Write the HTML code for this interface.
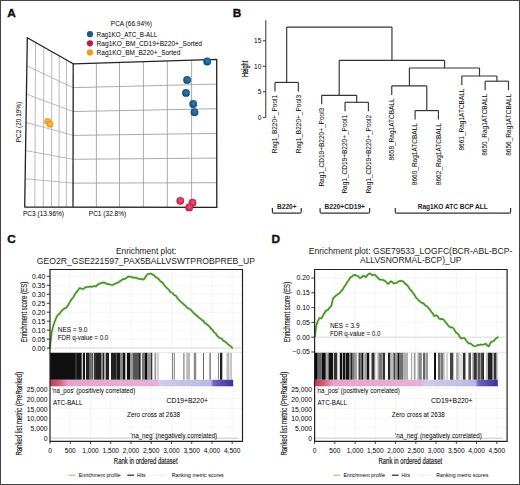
<!DOCTYPE html>
<html><head><meta charset="utf-8"><style>
html,body{margin:0;padding:0;background:#fff;}
svg{display:block;}
text{font-family:"Liberation Sans", sans-serif;}
</style></head><body>
<svg width="520" height="485" viewBox="0 0 520 485">
<defs>
<linearGradient id="cbar" x1="0" x2="1" y1="0" y2="0">
<stop offset="0" stop-color="#c83a48"/>
<stop offset="0.05" stop-color="#d0607a"/>
<stop offset="0.10" stop-color="#e6a3cc"/>
<stop offset="0.588" stop-color="#e8b0d6"/>
<stop offset="0.596" stop-color="#cdcdee"/>
<stop offset="0.878" stop-color="#b8b8e6"/>
<stop offset="0.893" stop-color="#6f64bd"/>
<stop offset="1" stop-color="#3b2f9e"/>
</linearGradient>
<radialGradient id="gb" cx="0.55" cy="0.45" r="0.6"><stop offset="0" stop-color="#2f7fb3"/><stop offset="0.6" stop-color="#1b5d91"/><stop offset="1" stop-color="#0f3c66"/></radialGradient>
<radialGradient id="gr" cx="0.55" cy="0.45" r="0.6"><stop offset="0" stop-color="#ec5c80"/><stop offset="0.6" stop-color="#d42a54"/><stop offset="1" stop-color="#a81536"/></radialGradient>
<radialGradient id="go" cx="0.55" cy="0.45" r="0.6"><stop offset="0" stop-color="#fbbf4a"/><stop offset="0.6" stop-color="#f5a226"/><stop offset="1" stop-color="#e88b12"/></radialGradient>
</defs>
<rect x="0" y="0" width="520" height="485" fill="#fff"/>
<text x="7.20" y="17.00" font-size="11.8" font-weight="bold" fill="#111" stroke="#111" stroke-width="0.4">A</text>
<text x="110.80" y="26.00" font-size="7" textLength="41.20" lengthAdjust="spacingAndGlyphs" >PCA (66.94%)</text>
<circle cx="90" cy="34.20" r="3.1" fill="#1c5a92"/>
<text x="96.60" y="36.80" font-size="7" textLength="60.60" lengthAdjust="spacingAndGlyphs" >Rag1KO_ATC_B-ALL</text>
<circle cx="90" cy="43.30" r="3.1" fill="#c8173b"/>
<text x="96.60" y="45.90" font-size="7" textLength="105.40" lengthAdjust="spacingAndGlyphs" >Rag1KO_BM_CD19+B220+_Sorted</text>
<circle cx="90" cy="52.40" r="3.1" fill="#f39a1e"/>
<text x="96.60" y="55.00" font-size="7" textLength="83.70" lengthAdjust="spacingAndGlyphs" >Rag1KO_BM_B220+_Sorted</text>
<line x1="35.50" y1="42.36" x2="34.84" y2="207.00" stroke="#a8a8a8" stroke-width="0.8"/>
<line x1="43.80" y1="47.08" x2="43.29" y2="207.00" stroke="#a8a8a8" stroke-width="0.8"/>
<line x1="51.80" y1="51.63" x2="51.43" y2="207.00" stroke="#a8a8a8" stroke-width="0.8"/>
<line x1="59.20" y1="55.84" x2="58.96" y2="207.00" stroke="#a8a8a8" stroke-width="0.8"/>
<line x1="66.50" y1="59.99" x2="66.38" y2="207.00" stroke="#a8a8a8" stroke-width="0.8"/>
<line x1="26.87" y1="65.92" x2="73.17" y2="87.67" stroke="#a8a8a8" stroke-width="0.8"/>
<line x1="26.43" y1="94.13" x2="73.13" y2="111.53" stroke="#a8a8a8" stroke-width="0.8"/>
<line x1="26.00" y1="122.35" x2="73.10" y2="135.40" stroke="#a8a8a8" stroke-width="0.8"/>
<line x1="25.57" y1="150.57" x2="73.07" y2="159.27" stroke="#a8a8a8" stroke-width="0.8"/>
<line x1="25.13" y1="178.78" x2="73.03" y2="183.13" stroke="#a8a8a8" stroke-width="0.8"/>
<line x1="96.40" y1="63.09" x2="96.40" y2="207.20" stroke="#959595" stroke-width="0.8"/>
<line x1="119.50" y1="62.38" x2="119.50" y2="207.20" stroke="#959595" stroke-width="0.8"/>
<line x1="143.40" y1="61.65" x2="143.40" y2="207.20" stroke="#959595" stroke-width="0.8"/>
<line x1="167.30" y1="60.91" x2="167.30" y2="207.20" stroke="#959595" stroke-width="0.8"/>
<line x1="191.60" y1="60.17" x2="191.60" y2="207.20" stroke="#959595" stroke-width="0.8"/>
<line x1="73.17" y1="87.67" x2="216.72" y2="84.07" stroke="#959595" stroke-width="0.8"/>
<line x1="73.13" y1="111.53" x2="216.73" y2="108.73" stroke="#959595" stroke-width="0.8"/>
<line x1="73.10" y1="135.40" x2="216.75" y2="133.40" stroke="#959595" stroke-width="0.8"/>
<line x1="73.07" y1="159.27" x2="216.77" y2="158.07" stroke="#959595" stroke-width="0.8"/>
<line x1="73.03" y1="183.13" x2="216.78" y2="182.73" stroke="#959595" stroke-width="0.8"/>
<path d="M27.30 37.70 L73.20 63.80 L216.70 59.40 L216.80 207.40 L24.70 207.00 L27.30 37.70 Z" stroke="#222" stroke-width="1.3" fill="none" stroke-linejoin="round"/>
<line x1="73.20" y1="63.80" x2="73.00" y2="207.00" stroke="#222" stroke-width="1.3"/>
<circle cx="207.20" cy="61.50" r="3.9" fill="url(#gb)"/>
<circle cx="187.10" cy="79.90" r="3.9" fill="url(#gb)"/>
<circle cx="186.00" cy="92.90" r="3.9" fill="url(#gb)"/>
<circle cx="193.20" cy="104.00" r="3.9" fill="url(#gb)"/>
<circle cx="194.50" cy="112.20" r="3.9" fill="url(#gb)"/>
<circle cx="180.30" cy="200.80" r="3.9" fill="url(#gr)"/>
<circle cx="192.50" cy="202.70" r="3.9" fill="url(#gr)"/>
<circle cx="189.20" cy="207.40" r="3.9" fill="url(#gr)"/>
<circle cx="47.80" cy="121.30" r="3.4" fill="url(#go)"/>
<circle cx="50.00" cy="124.20" r="3.4" fill="url(#go)"/>
<text x="23.00" y="216.00" font-size="6.6" textLength="41.00" lengthAdjust="spacingAndGlyphs" >PC3 (13.96%)</text>
<text x="88.80" y="216.00" font-size="6.6" textLength="37.40" lengthAdjust="spacingAndGlyphs" >PC1 (32.8%)</text>
<text x="21.40" y="142.20" font-size="6.4" textLength="40.40" lengthAdjust="spacingAndGlyphs" transform="rotate(-90 21.40 142.20)" >PC2 (20.19%)</text>
<text x="232.80" y="17.00" font-size="11.8" font-weight="bold" fill="#111" stroke="#111" stroke-width="0.4">B</text>
<line x1="265.80" y1="20.20" x2="265.80" y2="117.30" stroke="#333" stroke-width="1"/>
<line x1="262.80" y1="117.30" x2="265.80" y2="117.30" stroke="#333" stroke-width="1"/>
<text x="261.30" y="119.60" font-size="6.5" text-anchor="end" >0</text>
<line x1="262.80" y1="91.80" x2="265.80" y2="91.80" stroke="#333" stroke-width="1"/>
<text x="261.30" y="94.10" font-size="6.5" text-anchor="end" >5</text>
<line x1="262.80" y1="66.30" x2="265.80" y2="66.30" stroke="#333" stroke-width="1"/>
<text x="261.30" y="68.60" font-size="6.5" text-anchor="end" >10</text>
<line x1="262.80" y1="40.80" x2="265.80" y2="40.80" stroke="#333" stroke-width="1"/>
<text x="261.30" y="43.10" font-size="6.5" text-anchor="end" >15</text>
<text x="248.50" y="68.90" font-size="8.2" text-anchor="middle" fill="#222" textLength="16.20" lengthAdjust="spacingAndGlyphs" transform="rotate(-90 248.50 68.90)" stroke="#222" stroke-width="0.3">Height</text>
<line x1="286.70" y1="27.10" x2="391.95" y2="27.10" stroke="#333" stroke-width="1.15"/>
<line x1="286.70" y1="27.10" x2="286.70" y2="82.40" stroke="#333" stroke-width="1.15"/>
<line x1="391.95" y1="27.10" x2="391.95" y2="60.30" stroke="#333" stroke-width="1.15"/>
<line x1="275.00" y1="82.40" x2="298.35" y2="82.40" stroke="#333" stroke-width="1.15"/>
<line x1="275.00" y1="82.40" x2="275.00" y2="91.40" stroke="#333" stroke-width="1.15"/>
<line x1="298.35" y1="82.40" x2="298.35" y2="91.40" stroke="#333" stroke-width="1.15"/>
<line x1="339.20" y1="60.30" x2="444.60" y2="60.30" stroke="#333" stroke-width="1.15"/>
<line x1="339.20" y1="60.30" x2="339.20" y2="95.30" stroke="#333" stroke-width="1.15"/>
<line x1="444.60" y1="60.30" x2="444.60" y2="68.00" stroke="#333" stroke-width="1.15"/>
<line x1="321.70" y1="95.30" x2="356.70" y2="95.30" stroke="#333" stroke-width="1.15"/>
<line x1="321.70" y1="95.30" x2="321.70" y2="104.30" stroke="#333" stroke-width="1.15"/>
<line x1="356.70" y1="95.30" x2="356.70" y2="102.30" stroke="#333" stroke-width="1.15"/>
<line x1="345.05" y1="102.30" x2="368.40" y2="102.30" stroke="#333" stroke-width="1.15"/>
<line x1="345.05" y1="102.30" x2="345.05" y2="111.30" stroke="#333" stroke-width="1.15"/>
<line x1="368.40" y1="102.30" x2="368.40" y2="111.30" stroke="#333" stroke-width="1.15"/>
<line x1="409.40" y1="68.00" x2="479.50" y2="68.00" stroke="#333" stroke-width="1.15"/>
<line x1="409.40" y1="68.00" x2="409.40" y2="85.90" stroke="#333" stroke-width="1.15"/>
<line x1="479.50" y1="68.00" x2="479.50" y2="76.00" stroke="#333" stroke-width="1.15"/>
<line x1="391.75" y1="85.90" x2="426.80" y2="85.90" stroke="#333" stroke-width="1.15"/>
<line x1="391.75" y1="85.90" x2="391.75" y2="94.90" stroke="#333" stroke-width="1.15"/>
<line x1="426.80" y1="85.90" x2="426.80" y2="110.60" stroke="#333" stroke-width="1.15"/>
<line x1="415.10" y1="110.60" x2="438.45" y2="110.60" stroke="#333" stroke-width="1.15"/>
<line x1="415.10" y1="110.60" x2="415.10" y2="119.60" stroke="#333" stroke-width="1.15"/>
<line x1="438.45" y1="110.60" x2="438.45" y2="119.60" stroke="#333" stroke-width="1.15"/>
<line x1="461.80" y1="76.00" x2="496.90" y2="76.00" stroke="#333" stroke-width="1.15"/>
<line x1="461.80" y1="76.00" x2="461.80" y2="85.00" stroke="#333" stroke-width="1.15"/>
<line x1="496.90" y1="76.00" x2="496.90" y2="81.20" stroke="#333" stroke-width="1.15"/>
<line x1="485.15" y1="81.20" x2="508.50" y2="81.20" stroke="#333" stroke-width="1.15"/>
<line x1="485.15" y1="81.20" x2="485.15" y2="90.20" stroke="#333" stroke-width="1.15"/>
<line x1="508.50" y1="81.20" x2="508.50" y2="90.20" stroke="#333" stroke-width="1.15"/>
<text x="277.30" y="94.90" font-size="6.5" text-anchor="end" transform="rotate(-90 277.30 94.90)" >Rag1_B220+_Pool1</text>
<text x="300.65" y="94.90" font-size="6.5" text-anchor="end" transform="rotate(-90 300.65 94.90)" >Rag1_B220+_Pool3</text>
<text x="324.00" y="107.80" font-size="6.5" text-anchor="end" transform="rotate(-90 324.00 107.80)" >Rag1_CD19+B220+_Pool3</text>
<text x="347.35" y="114.80" font-size="6.5" text-anchor="end" transform="rotate(-90 347.35 114.80)" >Rag1_CD19+B220+_Pool1</text>
<text x="370.70" y="114.80" font-size="6.5" text-anchor="end" transform="rotate(-90 370.70 114.80)" >Rag1_CD19+B220+_Pool2</text>
<text x="394.05" y="98.40" font-size="6.5" text-anchor="end" transform="rotate(-90 394.05 98.40)" >8658_Rag1ATCBALL</text>
<text x="417.40" y="123.10" font-size="6.5" text-anchor="end" transform="rotate(-90 417.40 123.10)" >8660_Rag1ATCBALL</text>
<text x="440.75" y="123.10" font-size="6.5" text-anchor="end" transform="rotate(-90 440.75 123.10)" >8662_Rag1ATCBALL</text>
<text x="464.10" y="88.50" font-size="6.5" text-anchor="end" transform="rotate(-90 464.10 88.50)" >8661_Rag1ATCBALL</text>
<text x="487.45" y="93.70" font-size="6.5" text-anchor="end" transform="rotate(-90 487.45 93.70)" >8650_Rag1ATCBALL</text>
<text x="510.80" y="93.70" font-size="6.5" text-anchor="end" transform="rotate(-90 510.80 93.70)" >8656_Rag1ATCBALL</text>
<path d="M272.40 208 L272.40 211.7 Q272.40 213.2 273.90 213.2 L299.70 213.2 Q301.20 213.2 301.20 211.7 L301.20 208" stroke="#333" stroke-width="1.2" fill="none"/>
<text x="277.00" y="209.30" font-size="6.8" font-weight="bold" fill="#222" textLength="19.50" lengthAdjust="spacingAndGlyphs" >B220+</text>
<path d="M320.10 208 L320.10 211.7 Q320.10 213.2 321.60 213.2 L368.10 213.2 Q369.60 213.2 369.60 211.7 L369.60 208" stroke="#333" stroke-width="1.2" fill="none"/>
<text x="324.50" y="209.30" font-size="6.8" font-weight="bold" fill="#222" textLength="40.50" lengthAdjust="spacingAndGlyphs" >B220+CD19+</text>
<path d="M395.30 208 L395.30 211.7 Q395.30 213.2 396.80 213.2 L509.10 213.2 Q510.60 213.2 510.60 211.7 L510.60 208" stroke="#333" stroke-width="1.2" fill="none"/>
<text x="417.70" y="209.30" font-size="6.8" font-weight="bold" fill="#222" textLength="70.00" lengthAdjust="spacingAndGlyphs" >Rag1KO ATC BCP ALL</text>
<text x="7.20" y="243.00" font-size="11.8" font-weight="bold" fill="#111" stroke="#111" stroke-width="0.4">C</text>
<text x="115.90" y="253.60" font-size="8.2" fill="#222" textLength="60.50" lengthAdjust="spacingAndGlyphs" >Enrichment plot:</text>
<text x="36.80" y="264.00" font-size="8.2" fill="#222" textLength="218.30" lengthAdjust="spacingAndGlyphs" >GEO2R_GSE221597_PAX5BALLVSWTPROBPREB_UP</text>
<line x1="70.25" y1="269.50" x2="70.25" y2="352.50" stroke="#eeeeee" stroke-width="0.6"/>
<line x1="70.25" y1="386.50" x2="70.25" y2="441.30" stroke="#eeeeee" stroke-width="0.6"/>
<line x1="90.49" y1="269.50" x2="90.49" y2="352.50" stroke="#eeeeee" stroke-width="0.6"/>
<line x1="90.49" y1="386.50" x2="90.49" y2="441.30" stroke="#eeeeee" stroke-width="0.6"/>
<line x1="110.73" y1="269.50" x2="110.73" y2="352.50" stroke="#eeeeee" stroke-width="0.6"/>
<line x1="110.73" y1="386.50" x2="110.73" y2="441.30" stroke="#eeeeee" stroke-width="0.6"/>
<line x1="130.98" y1="269.50" x2="130.98" y2="352.50" stroke="#eeeeee" stroke-width="0.6"/>
<line x1="130.98" y1="386.50" x2="130.98" y2="441.30" stroke="#eeeeee" stroke-width="0.6"/>
<line x1="151.22" y1="269.50" x2="151.22" y2="352.50" stroke="#eeeeee" stroke-width="0.6"/>
<line x1="151.22" y1="386.50" x2="151.22" y2="441.30" stroke="#eeeeee" stroke-width="0.6"/>
<line x1="171.47" y1="269.50" x2="171.47" y2="352.50" stroke="#eeeeee" stroke-width="0.6"/>
<line x1="171.47" y1="386.50" x2="171.47" y2="441.30" stroke="#eeeeee" stroke-width="0.6"/>
<line x1="191.72" y1="269.50" x2="191.72" y2="352.50" stroke="#eeeeee" stroke-width="0.6"/>
<line x1="191.72" y1="386.50" x2="191.72" y2="441.30" stroke="#eeeeee" stroke-width="0.6"/>
<line x1="211.96" y1="269.50" x2="211.96" y2="352.50" stroke="#eeeeee" stroke-width="0.6"/>
<line x1="211.96" y1="386.50" x2="211.96" y2="441.30" stroke="#eeeeee" stroke-width="0.6"/>
<line x1="232.20" y1="269.50" x2="232.20" y2="352.50" stroke="#eeeeee" stroke-width="0.6"/>
<line x1="232.20" y1="386.50" x2="232.20" y2="441.30" stroke="#eeeeee" stroke-width="0.6"/>
<line x1="50.00" y1="348.10" x2="242.50" y2="348.10" stroke="#eeeeee" stroke-width="0.6"/>
<line x1="50.00" y1="339.12" x2="242.50" y2="339.12" stroke="#eeeeee" stroke-width="0.6"/>
<line x1="50.00" y1="330.15" x2="242.50" y2="330.15" stroke="#eeeeee" stroke-width="0.6"/>
<line x1="50.00" y1="321.18" x2="242.50" y2="321.18" stroke="#eeeeee" stroke-width="0.6"/>
<line x1="50.00" y1="312.20" x2="242.50" y2="312.20" stroke="#eeeeee" stroke-width="0.6"/>
<line x1="50.00" y1="303.23" x2="242.50" y2="303.23" stroke="#eeeeee" stroke-width="0.6"/>
<line x1="50.00" y1="294.25" x2="242.50" y2="294.25" stroke="#eeeeee" stroke-width="0.6"/>
<line x1="50.00" y1="285.28" x2="242.50" y2="285.28" stroke="#eeeeee" stroke-width="0.6"/>
<line x1="50.00" y1="276.30" x2="242.50" y2="276.30" stroke="#eeeeee" stroke-width="0.6"/>
<line x1="50.00" y1="388.90" x2="242.50" y2="388.90" stroke="#eeeeee" stroke-width="0.6"/>
<line x1="50.00" y1="398.62" x2="242.50" y2="398.62" stroke="#eeeeee" stroke-width="0.6"/>
<line x1="50.00" y1="408.34" x2="242.50" y2="408.34" stroke="#eeeeee" stroke-width="0.6"/>
<line x1="50.00" y1="418.06" x2="242.50" y2="418.06" stroke="#eeeeee" stroke-width="0.6"/>
<line x1="50.00" y1="427.78" x2="242.50" y2="427.78" stroke="#eeeeee" stroke-width="0.6"/>
<line x1="50.00" y1="437.50" x2="242.50" y2="437.50" stroke="#eeeeee" stroke-width="0.6"/>
<line x1="50.00" y1="348.10" x2="240.50" y2="348.10" stroke="#cfcfcf" stroke-width="0.7"/>
<line x1="50.00" y1="352.60" x2="242.50" y2="352.60" stroke="#d8d8d8" stroke-width="0.6"/>
<rect x="50.00" y="352.8" width="25.00" height="27" fill="#101010"/>
<rect x="75.00" y="352.8" width="2.00" height="27" fill="#333333"/>
<rect x="77.00" y="352.8" width="4.00" height="27" fill="#141414"/>
<rect x="81.00" y="352.8" width="1.00" height="27" fill="#555555"/>
<rect x="82.00" y="352.8" width="1.00" height="27" fill="#d0d0d0"/>
<rect x="83.00" y="352.8" width="2.00" height="27" fill="#151515"/>
<rect x="85.00" y="352.8" width="1.00" height="27" fill="#f5f5f5"/>
<rect x="86.00" y="352.8" width="3.00" height="27" fill="#222222"/>
<rect x="89.00" y="352.8" width="2.50" height="27" fill="#666666"/>
<rect x="91.50" y="352.8" width="1.50" height="27" fill="#555555"/>
<rect x="93.00" y="352.8" width="1.00" height="27" fill="#cccccc"/>
<rect x="94.00" y="352.8" width="2.00" height="27" fill="#333333"/>
<rect x="96.00" y="352.8" width="5.00" height="27" fill="#222222"/>
<rect x="101.00" y="352.8" width="2.00" height="27" fill="#888888"/>
<rect x="103.00" y="352.8" width="1.00" height="27" fill="#222222"/>
<rect x="104.00" y="352.8" width="2.00" height="27" fill="#aaaaaa"/>
<rect x="106.00" y="352.8" width="3.00" height="27" fill="#222222"/>
<rect x="109.00" y="352.8" width="2.00" height="27" fill="#f5f5f5"/>
<rect x="111.00" y="352.8" width="5.00" height="27" fill="#222222"/>
<rect x="116.00" y="352.8" width="1.00" height="27" fill="#555555"/>
<rect x="117.00" y="352.8" width="3.00" height="27" fill="#1a1a1a"/>
<rect x="120.00" y="352.8" width="3.00" height="27" fill="#888888"/>
<rect x="123.00" y="352.8" width="2.50" height="27" fill="#111111"/>
<rect x="125.50" y="352.8" width="1.50" height="27" fill="#dddddd"/>
<rect x="127.00" y="352.8" width="3.00" height="27" fill="#111111"/>
<rect x="130.00" y="352.8" width="3.00" height="27" fill="#999999"/>
<rect x="133.00" y="352.8" width="6.00" height="27" fill="#555555"/>
<rect x="139.00" y="352.8" width="1.00" height="27" fill="#222222"/>
<rect x="140.00" y="352.8" width="1.00" height="27" fill="#777777"/>
<rect x="141.00" y="352.8" width="1.00" height="27" fill="#f0f0f0"/>
<rect x="142.00" y="352.8" width="3.00" height="27" fill="#777777"/>
<rect x="145.00" y="352.8" width="2.50" height="27" fill="#0a0a0a"/>
<rect x="147.50" y="352.8" width="3.50" height="27" fill="#999999"/>
<rect x="151.00" y="352.8" width="1.50" height="27" fill="#333333"/>
<rect x="152.50" y="352.8" width="2.00" height="27" fill="#f8f8f8"/>
<rect x="154.50" y="352.8" width="1.50" height="27" fill="#999999"/>
<rect x="156.00" y="352.8" width="1.50" height="27" fill="#eeeeee"/>
<rect x="157.50" y="352.8" width="1.00" height="27" fill="#aaaaaa"/>
<rect x="171.90" y="352.8" width="1.20" height="27" fill="#888888"/>
<rect x="173.80" y="352.8" width="1.20" height="27" fill="#999999"/>
<rect x="183.10" y="352.8" width="1.50" height="27" fill="#999999"/>
<rect x="186.20" y="352.8" width="3.80" height="27" fill="#bbbbbb"/>
<rect x="193.80" y="352.8" width="2.40" height="27" fill="#888888"/>
<rect x="203.00" y="352.8" width="1.00" height="27" fill="#666666"/>
<rect x="209.40" y="352.8" width="1.40" height="27" fill="#777777"/>
<rect x="218.00" y="352.8" width="1.00" height="27" fill="#888888"/>
<rect x="220.00" y="352.8" width="2.00" height="27" fill="#222222"/>
<rect x="222.00" y="352.8" width="1.00" height="27" fill="#bbbbbb"/>
<rect x="226.50" y="352.8" width="3.00" height="27" fill="#bbbbbb"/>
<rect x="230.70" y="352.8" width="0.70" height="27" fill="#666666"/>
<rect x="50.00" y="379.8" width="183.20" height="6.5" fill="url(#cbar)"/>
<line x1="50.00" y1="438.30" x2="238.50" y2="438.30" stroke="#bdbdbd" stroke-width="0.7"/>
<polyline points="49.90,347.80 51.80,331.50 53.80,324.26 55.25,320.21 56.70,316.66 58.10,314.65 59.50,313.74 60.95,311.63 62.40,309.91 64.35,308.61 66.30,307.84 67.75,305.79 69.20,303.12 70.60,300.76 72.00,298.71 73.45,296.95 74.90,294.34 76.35,292.32 77.80,290.63 79.70,288.09 81.15,288.46 82.60,289.05 83.90,288.75 85.20,287.43 86.50,287.02 87.92,286.89 89.35,286.67 90.78,286.59 92.20,286.87 94.10,286.06 96.00,286.36 97.30,284.99 98.60,284.18 99.90,283.45 101.85,282.81 103.80,282.62 105.70,283.26 107.60,284.17 109.20,284.23 110.80,284.71 112.40,285.09 114.35,283.97 116.30,283.21 118.20,282.55 120.10,281.02 121.55,280.06 123.00,279.13 124.45,279.11 125.90,278.33 127.80,276.83 129.70,276.67 131.30,276.75 132.90,277.69 134.50,277.63 136.10,277.70 137.70,278.42 139.30,279.02 140.80,278.88 142.30,279.35 143.80,279.49 145.80,276.52 147.70,273.99 149.15,274.01 150.60,273.45 152.50,274.50 153.95,275.20 155.40,277.01 157.30,277.96 159.20,279.60 160.50,281.46 161.80,281.97 163.10,283.41 164.53,285.59 165.95,287.22 167.38,288.48 168.80,289.77 170.16,291.74 171.52,292.60 172.88,293.40 174.24,295.26 175.60,295.56 177.03,297.57 178.45,299.41 179.88,300.82 181.30,302.29 182.62,303.26 183.95,304.61 185.28,305.48 186.60,307.13 187.93,308.15 189.25,308.68 190.58,309.63 191.90,310.95 193.20,312.61 194.50,313.60 195.80,314.85 197.34,316.00 198.88,317.63 200.42,318.62 201.96,320.03 203.50,321.02 205.04,323.27 206.58,324.05 208.12,325.25 209.66,326.82 211.20,328.91 212.54,329.97 213.88,332.19 215.22,332.88 216.56,334.76 217.90,336.71 219.80,337.99 221.70,338.52 223.15,340.53 224.60,341.43 226.05,342.38 227.50,343.75 229.10,345.04 230.70,346.29 232.30,347.80" fill="none" stroke="#cdeeb8" stroke-width="3.2" stroke-linejoin="round" stroke-linecap="round" opacity="0.7"/>
<polyline points="49.90,347.80 51.80,331.50 53.80,324.26 55.25,320.21 56.70,316.66 58.10,314.65 59.50,313.74 60.95,311.63 62.40,309.91 64.35,308.61 66.30,307.84 67.75,305.79 69.20,303.12 70.60,300.76 72.00,298.71 73.45,296.95 74.90,294.34 76.35,292.32 77.80,290.63 79.70,288.09 81.15,288.46 82.60,289.05 83.90,288.75 85.20,287.43 86.50,287.02 87.92,286.89 89.35,286.67 90.78,286.59 92.20,286.87 94.10,286.06 96.00,286.36 97.30,284.99 98.60,284.18 99.90,283.45 101.85,282.81 103.80,282.62 105.70,283.26 107.60,284.17 109.20,284.23 110.80,284.71 112.40,285.09 114.35,283.97 116.30,283.21 118.20,282.55 120.10,281.02 121.55,280.06 123.00,279.13 124.45,279.11 125.90,278.33 127.80,276.83 129.70,276.67 131.30,276.75 132.90,277.69 134.50,277.63 136.10,277.70 137.70,278.42 139.30,279.02 140.80,278.88 142.30,279.35 143.80,279.49 145.80,276.52 147.70,273.99 149.15,274.01 150.60,273.45 152.50,274.50 153.95,275.20 155.40,277.01 157.30,277.96 159.20,279.60 160.50,281.46 161.80,281.97 163.10,283.41 164.53,285.59 165.95,287.22 167.38,288.48 168.80,289.77 170.16,291.74 171.52,292.60 172.88,293.40 174.24,295.26 175.60,295.56 177.03,297.57 178.45,299.41 179.88,300.82 181.30,302.29 182.62,303.26 183.95,304.61 185.28,305.48 186.60,307.13 187.93,308.15 189.25,308.68 190.58,309.63 191.90,310.95 193.20,312.61 194.50,313.60 195.80,314.85 197.34,316.00 198.88,317.63 200.42,318.62 201.96,320.03 203.50,321.02 205.04,323.27 206.58,324.05 208.12,325.25 209.66,326.82 211.20,328.91 212.54,329.97 213.88,332.19 215.22,332.88 216.56,334.76 217.90,336.71 219.80,337.99 221.70,338.52 223.15,340.53 224.60,341.43 226.05,342.38 227.50,343.75 229.10,345.04 230.70,346.29 232.30,347.80" fill="none" stroke="#478f28" stroke-width="1.6" stroke-linejoin="round" stroke-linecap="round"/>
<path d="M50.00 269.5 L242.50 269.5 L242.50 441.3 L50.00 441.3 Z" fill="none" stroke="#222" stroke-width="1.2"/>
<line x1="46.70" y1="348.10" x2="50.00" y2="348.10" stroke="#222" stroke-width="0.9"/>
<text x="45.20" y="350.50" font-size="6.8" text-anchor="end" >0.00</text>
<line x1="46.70" y1="339.12" x2="50.00" y2="339.12" stroke="#222" stroke-width="0.9"/>
<text x="45.20" y="341.52" font-size="6.8" text-anchor="end" >0.05</text>
<line x1="46.70" y1="330.15" x2="50.00" y2="330.15" stroke="#222" stroke-width="0.9"/>
<text x="45.20" y="332.55" font-size="6.8" text-anchor="end" >0.10</text>
<line x1="46.70" y1="321.18" x2="50.00" y2="321.18" stroke="#222" stroke-width="0.9"/>
<text x="45.20" y="323.57" font-size="6.8" text-anchor="end" >0.15</text>
<line x1="46.70" y1="312.20" x2="50.00" y2="312.20" stroke="#222" stroke-width="0.9"/>
<text x="45.20" y="314.60" font-size="6.8" text-anchor="end" >0.20</text>
<line x1="46.70" y1="303.23" x2="50.00" y2="303.23" stroke="#222" stroke-width="0.9"/>
<text x="45.20" y="305.62" font-size="6.8" text-anchor="end" >0.25</text>
<line x1="46.70" y1="294.25" x2="50.00" y2="294.25" stroke="#222" stroke-width="0.9"/>
<text x="45.20" y="296.65" font-size="6.8" text-anchor="end" >0.30</text>
<line x1="46.70" y1="285.28" x2="50.00" y2="285.28" stroke="#222" stroke-width="0.9"/>
<text x="45.20" y="287.68" font-size="6.8" text-anchor="end" >0.35</text>
<line x1="46.70" y1="276.30" x2="50.00" y2="276.30" stroke="#222" stroke-width="0.9"/>
<text x="45.20" y="278.70" font-size="6.8" text-anchor="end" >0.40</text>
<text x="47.50" y="392.30" font-size="6.8" text-anchor="end" >25,000</text>
<text x="47.50" y="402.02" font-size="6.8" text-anchor="end" >20,000</text>
<text x="47.50" y="411.74" font-size="6.8" text-anchor="end" >15,000</text>
<text x="47.50" y="421.46" font-size="6.8" text-anchor="end" >10,000</text>
<text x="47.50" y="431.18" font-size="6.8" text-anchor="end" >5,000</text>
<text x="47.50" y="440.90" font-size="6.8" text-anchor="end" >0</text>
<line x1="50.00" y1="441.30" x2="50.00" y2="443.90" stroke="#222" stroke-width="0.9"/>
<text x="50.00" y="453.20" font-size="6.6" text-anchor="middle" >0</text>
<line x1="70.25" y1="441.30" x2="70.25" y2="443.90" stroke="#222" stroke-width="0.9"/>
<text x="70.25" y="453.20" font-size="6.6" text-anchor="middle" >500</text>
<line x1="90.49" y1="441.30" x2="90.49" y2="443.90" stroke="#222" stroke-width="0.9"/>
<text x="90.49" y="453.20" font-size="6.6" text-anchor="middle" >1,000</text>
<line x1="110.73" y1="441.30" x2="110.73" y2="443.90" stroke="#222" stroke-width="0.9"/>
<text x="110.73" y="453.20" font-size="6.6" text-anchor="middle" >1,500</text>
<line x1="130.98" y1="441.30" x2="130.98" y2="443.90" stroke="#222" stroke-width="0.9"/>
<text x="130.98" y="453.20" font-size="6.6" text-anchor="middle" >2,000</text>
<line x1="151.22" y1="441.30" x2="151.22" y2="443.90" stroke="#222" stroke-width="0.9"/>
<text x="151.22" y="453.20" font-size="6.6" text-anchor="middle" >2,500</text>
<line x1="171.47" y1="441.30" x2="171.47" y2="443.90" stroke="#222" stroke-width="0.9"/>
<text x="171.47" y="453.20" font-size="6.6" text-anchor="middle" >3,000</text>
<line x1="191.72" y1="441.30" x2="191.72" y2="443.90" stroke="#222" stroke-width="0.9"/>
<text x="191.72" y="453.20" font-size="6.6" text-anchor="middle" >3,500</text>
<line x1="211.96" y1="441.30" x2="211.96" y2="443.90" stroke="#222" stroke-width="0.9"/>
<text x="211.96" y="453.20" font-size="6.6" text-anchor="middle" >4,000</text>
<line x1="232.20" y1="441.30" x2="232.20" y2="443.90" stroke="#222" stroke-width="0.9"/>
<text x="232.20" y="453.20" font-size="6.6" text-anchor="middle" >4,500</text>
<text x="26.70" y="312.10" font-size="8.3" text-anchor="middle" fill="#222" textLength="60.50" lengthAdjust="spacingAndGlyphs" transform="rotate(-90 26.70 312.10)" stroke="#222" stroke-width="0.15">Enrichment score (ES)</text>
<text x="22.20" y="413.70" font-size="9.0" text-anchor="middle" fill="#222" textLength="83.80" lengthAdjust="spacingAndGlyphs" transform="rotate(-90 22.20 413.70)" stroke="#222" stroke-width="0.15">Ranked list metric (PreRanked)</text>
<text x="145.70" y="463.80" font-size="8.4" text-anchor="middle" fill="#222" textLength="63.70" lengthAdjust="spacingAndGlyphs" stroke="#222" stroke-width="0.2">Rank in ordered dataset</text>
<text x="57.80" y="331.80" font-size="6.6" textLength="29.60" lengthAdjust="spacingAndGlyphs" >NES = 9.0</text>
<text x="57.80" y="339.60" font-size="6.6" textLength="50.50" lengthAdjust="spacingAndGlyphs" >FDR q-value = 0.0</text>
<text x="51.80" y="392.50" font-size="6.4" textLength="83.50" lengthAdjust="spacingAndGlyphs" >'na_pos' (positively correlated)</text>
<text x="53.00" y="404.50" font-size="6.8" textLength="29.50" lengthAdjust="spacingAndGlyphs" >ATC-BALL</text>
<text x="166.50" y="403.00" font-size="6.8" textLength="41.50" lengthAdjust="spacingAndGlyphs" >CD19+B220+</text>
<text x="127.00" y="416.60" font-size="6.6" textLength="53.00" lengthAdjust="spacingAndGlyphs" >Zero cross at 2638</text>
<text x="130.50" y="438.00" font-size="6.4" textLength="86.70" lengthAdjust="spacingAndGlyphs" >'na_neg' (negatively correlated)</text>
<line x1="68.70" y1="475.20" x2="75.40" y2="475.20" stroke="#9fcc7f" stroke-width="1.2"/>
<text x="78.80" y="477.00" font-size="5.6" textLength="41.80" lengthAdjust="spacingAndGlyphs" >Enrichment profile</text>
<line x1="127.30" y1="475.20" x2="134.00" y2="475.20" stroke="#222" stroke-width="1.2"/>
<text x="137.00" y="477.00" font-size="5.6" textLength="8.60" lengthAdjust="spacingAndGlyphs" >Hits</text>
<line x1="152.50" y1="475.20" x2="167.00" y2="475.20" stroke="#eeeeee" stroke-width="1.2"/>
<text x="171.70" y="477.00" font-size="5.6" textLength="52.00" lengthAdjust="spacingAndGlyphs" >Ranking metric scores</text>
<text x="271.40" y="243.00" font-size="11.8" font-weight="bold" fill="#111" stroke="#111" stroke-width="0.4">D</text>
<text x="308.80" y="253.60" font-size="8.2" fill="#222" textLength="203.50" lengthAdjust="spacingAndGlyphs" >Enrichment plot: GSE79533_LOGFC(BCR-ABL-BCP-</text>
<text x="360.00" y="263.40" font-size="8.2" fill="#222" textLength="101.50" lengthAdjust="spacingAndGlyphs" >ALLVSNORMAL-BCP)_UP</text>
<line x1="334.85" y1="269.50" x2="334.85" y2="352.50" stroke="#eeeeee" stroke-width="0.6"/>
<line x1="334.85" y1="386.50" x2="334.85" y2="441.30" stroke="#eeeeee" stroke-width="0.6"/>
<line x1="355.09" y1="269.50" x2="355.09" y2="352.50" stroke="#eeeeee" stroke-width="0.6"/>
<line x1="355.09" y1="386.50" x2="355.09" y2="441.30" stroke="#eeeeee" stroke-width="0.6"/>
<line x1="375.34" y1="269.50" x2="375.34" y2="352.50" stroke="#eeeeee" stroke-width="0.6"/>
<line x1="375.34" y1="386.50" x2="375.34" y2="441.30" stroke="#eeeeee" stroke-width="0.6"/>
<line x1="395.58" y1="269.50" x2="395.58" y2="352.50" stroke="#eeeeee" stroke-width="0.6"/>
<line x1="395.58" y1="386.50" x2="395.58" y2="441.30" stroke="#eeeeee" stroke-width="0.6"/>
<line x1="415.83" y1="269.50" x2="415.83" y2="352.50" stroke="#eeeeee" stroke-width="0.6"/>
<line x1="415.83" y1="386.50" x2="415.83" y2="441.30" stroke="#eeeeee" stroke-width="0.6"/>
<line x1="436.07" y1="269.50" x2="436.07" y2="352.50" stroke="#eeeeee" stroke-width="0.6"/>
<line x1="436.07" y1="386.50" x2="436.07" y2="441.30" stroke="#eeeeee" stroke-width="0.6"/>
<line x1="456.32" y1="269.50" x2="456.32" y2="352.50" stroke="#eeeeee" stroke-width="0.6"/>
<line x1="456.32" y1="386.50" x2="456.32" y2="441.30" stroke="#eeeeee" stroke-width="0.6"/>
<line x1="476.56" y1="269.50" x2="476.56" y2="352.50" stroke="#eeeeee" stroke-width="0.6"/>
<line x1="476.56" y1="386.50" x2="476.56" y2="441.30" stroke="#eeeeee" stroke-width="0.6"/>
<line x1="496.81" y1="269.50" x2="496.81" y2="352.50" stroke="#eeeeee" stroke-width="0.6"/>
<line x1="496.81" y1="386.50" x2="496.81" y2="441.30" stroke="#eeeeee" stroke-width="0.6"/>
<line x1="314.60" y1="352.00" x2="507.10" y2="352.00" stroke="#eeeeee" stroke-width="0.6"/>
<line x1="314.60" y1="337.20" x2="507.10" y2="337.20" stroke="#eeeeee" stroke-width="0.6"/>
<line x1="314.60" y1="322.40" x2="507.10" y2="322.40" stroke="#eeeeee" stroke-width="0.6"/>
<line x1="314.60" y1="307.60" x2="507.10" y2="307.60" stroke="#eeeeee" stroke-width="0.6"/>
<line x1="314.60" y1="292.80" x2="507.10" y2="292.80" stroke="#eeeeee" stroke-width="0.6"/>
<line x1="314.60" y1="278.00" x2="507.10" y2="278.00" stroke="#eeeeee" stroke-width="0.6"/>
<line x1="314.60" y1="388.90" x2="507.10" y2="388.90" stroke="#eeeeee" stroke-width="0.6"/>
<line x1="314.60" y1="398.62" x2="507.10" y2="398.62" stroke="#eeeeee" stroke-width="0.6"/>
<line x1="314.60" y1="408.34" x2="507.10" y2="408.34" stroke="#eeeeee" stroke-width="0.6"/>
<line x1="314.60" y1="418.06" x2="507.10" y2="418.06" stroke="#eeeeee" stroke-width="0.6"/>
<line x1="314.60" y1="427.78" x2="507.10" y2="427.78" stroke="#eeeeee" stroke-width="0.6"/>
<line x1="314.60" y1="437.50" x2="507.10" y2="437.50" stroke="#eeeeee" stroke-width="0.6"/>
<line x1="314.60" y1="337.20" x2="505.10" y2="337.20" stroke="#cfcfcf" stroke-width="0.7"/>
<line x1="314.60" y1="352.60" x2="507.10" y2="352.60" stroke="#d8d8d8" stroke-width="0.6"/>
<rect x="314.60" y="352.8" width="2.40" height="27" fill="#080808"/>
<rect x="317.00" y="352.8" width="1.00" height="27" fill="#555555"/>
<rect x="318.00" y="352.8" width="3.00" height="27" fill="#666666"/>
<rect x="321.00" y="352.8" width="1.00" height="27" fill="#777777"/>
<rect x="322.00" y="352.8" width="3.00" height="27" fill="#101010"/>
<rect x="325.00" y="352.8" width="1.00" height="27" fill="#555555"/>
<rect x="326.00" y="352.8" width="2.50" height="27" fill="#aaaaaa"/>
<rect x="328.50" y="352.8" width="4.50" height="27" fill="#141414"/>
<rect x="333.00" y="352.8" width="1.00" height="27" fill="#cccccc"/>
<rect x="334.00" y="352.8" width="3.50" height="27" fill="#333333"/>
<rect x="337.50" y="352.8" width="2.00" height="27" fill="#f5f5f5"/>
<rect x="339.50" y="352.8" width="0.50" height="27" fill="#999999"/>
<rect x="340.00" y="352.8" width="2.00" height="27" fill="#101010"/>
<rect x="342.00" y="352.8" width="1.00" height="27" fill="#aaaaaa"/>
<rect x="343.00" y="352.8" width="2.00" height="27" fill="#141414"/>
<rect x="345.00" y="352.8" width="1.00" height="27" fill="#888888"/>
<rect x="346.00" y="352.8" width="3.00" height="27" fill="#141414"/>
<rect x="349.00" y="352.8" width="1.50" height="27" fill="#888888"/>
<rect x="350.50" y="352.8" width="1.50" height="27" fill="#222222"/>
<rect x="352.00" y="352.8" width="2.00" height="27" fill="#777777"/>
<rect x="354.00" y="352.8" width="2.00" height="27" fill="#999999"/>
<rect x="356.00" y="352.8" width="1.00" height="27" fill="#aaaaaa"/>
<rect x="357.00" y="352.8" width="1.50" height="27" fill="#f5f5f5"/>
<rect x="358.50" y="352.8" width="1.50" height="27" fill="#444444"/>
<rect x="360.00" y="352.8" width="1.50" height="27" fill="#777777"/>
<rect x="361.50" y="352.8" width="2.00" height="27" fill="#111111"/>
<rect x="363.50" y="352.8" width="1.00" height="27" fill="#bbbbbb"/>
<rect x="364.50" y="352.8" width="2.50" height="27" fill="#999999"/>
<rect x="367.00" y="352.8" width="2.50" height="27" fill="#111111"/>
<rect x="369.50" y="352.8" width="1.50" height="27" fill="#f5f5f5"/>
<rect x="371.00" y="352.8" width="1.00" height="27" fill="#999999"/>
<rect x="372.00" y="352.8" width="2.00" height="27" fill="#333333"/>
<rect x="374.00" y="352.8" width="1.50" height="27" fill="#888888"/>
<rect x="375.50" y="352.8" width="2.00" height="27" fill="#f5f5f5"/>
<rect x="377.50" y="352.8" width="1.50" height="27" fill="#aaaaaa"/>
<rect x="379.00" y="352.8" width="3.00" height="27" fill="#777777"/>
<rect x="382.00" y="352.8" width="1.00" height="27" fill="#999999"/>
<rect x="383.00" y="352.8" width="2.00" height="27" fill="#333333"/>
<rect x="385.00" y="352.8" width="3.00" height="27" fill="#f5f5f5"/>
<rect x="388.00" y="352.8" width="2.00" height="27" fill="#222222"/>
<rect x="390.00" y="352.8" width="1.00" height="27" fill="#aaaaaa"/>
<rect x="391.00" y="352.8" width="2.50" height="27" fill="#bbbbbb"/>
<rect x="393.50" y="352.8" width="1.50" height="27" fill="#444444"/>
<rect x="395.00" y="352.8" width="2.50" height="27" fill="#999999"/>
<rect x="397.50" y="352.8" width="1.50" height="27" fill="#111111"/>
<rect x="399.00" y="352.8" width="4.00" height="27" fill="#707070"/>
<rect x="403.00" y="352.8" width="5.00" height="27" fill="#b0b0b0"/>
<rect x="411.00" y="352.8" width="1.00" height="27" fill="#aaaaaa"/>
<rect x="412.00" y="352.8" width="2.00" height="27" fill="#eeeeee"/>
<rect x="414.00" y="352.8" width="1.50" height="27" fill="#999999"/>
<rect x="417.50" y="352.8" width="1.50" height="27" fill="#aaaaaa"/>
<rect x="419.00" y="352.8" width="2.00" height="27" fill="#888888"/>
<rect x="421.00" y="352.8" width="1.00" height="27" fill="#999999"/>
<rect x="423.00" y="352.8" width="2.00" height="27" fill="#666666"/>
<rect x="425.00" y="352.8" width="1.00" height="27" fill="#bbbbbb"/>
<rect x="426.00" y="352.8" width="2.00" height="27" fill="#999999"/>
<rect x="434.00" y="352.8" width="2.00" height="27" fill="#101010"/>
<rect x="438.00" y="352.8" width="2.00" height="27" fill="#666666"/>
<rect x="440.00" y="352.8" width="1.00" height="27" fill="#aaaaaa"/>
<rect x="441.00" y="352.8" width="2.50" height="27" fill="#777777"/>
<rect x="444.00" y="352.8" width="1.00" height="27" fill="#cccccc"/>
<rect x="446.50" y="352.8" width="1.00" height="27" fill="#aaaaaa"/>
<rect x="450.00" y="352.8" width="3.00" height="27" fill="#444444"/>
<rect x="453.00" y="352.8" width="1.00" height="27" fill="#bbbbbb"/>
<rect x="456.00" y="352.8" width="2.00" height="27" fill="#aaaaaa"/>
<rect x="458.00" y="352.8" width="1.00" height="27" fill="#bbbbbb"/>
<rect x="459.00" y="352.8" width="4.00" height="27" fill="#e0e0e0"/>
<rect x="463.00" y="352.8" width="2.50" height="27" fill="#333333"/>
<rect x="468.00" y="352.8" width="1.00" height="27" fill="#999999"/>
<rect x="469.00" y="352.8" width="2.00" height="27" fill="#555555"/>
<rect x="472.00" y="352.8" width="1.50" height="27" fill="#bbbbbb"/>
<rect x="473.50" y="352.8" width="2.50" height="27" fill="#333333"/>
<rect x="476.00" y="352.8" width="1.00" height="27" fill="#555555"/>
<rect x="477.00" y="352.8" width="1.00" height="27" fill="#aaaaaa"/>
<rect x="478.00" y="352.8" width="2.00" height="27" fill="#555555"/>
<rect x="480.00" y="352.8" width="1.00" height="27" fill="#999999"/>
<rect x="481.00" y="352.8" width="2.00" height="27" fill="#444444"/>
<rect x="483.00" y="352.8" width="1.00" height="27" fill="#222222"/>
<rect x="486.00" y="352.8" width="2.00" height="27" fill="#bbbbbb"/>
<rect x="488.00" y="352.8" width="4.00" height="27" fill="#222222"/>
<rect x="492.00" y="352.8" width="1.00" height="27" fill="#888888"/>
<rect x="493.00" y="352.8" width="1.00" height="27" fill="#aaaaaa"/>
<rect x="494.00" y="352.8" width="2.50" height="27" fill="#333333"/>
<rect x="496.50" y="352.8" width="1.00" height="27" fill="#999999"/>
<rect x="314.60" y="379.8" width="183.20" height="6.5" fill="url(#cbar)"/>
<line x1="314.60" y1="438.30" x2="503.10" y2="438.30" stroke="#bdbdbd" stroke-width="0.7"/>
<polyline points="314.90,336.30 316.20,325.70 317.80,321.06 319.70,317.92 321.60,318.43 323.50,314.74 325.50,311.25 326.90,310.28 328.30,309.48 329.75,307.38 331.20,306.00 333.20,298.40 334.60,296.81 336.00,295.63 338.00,294.14 339.40,293.13 340.80,291.71 342.80,289.38 344.25,286.77 345.70,284.81 347.10,282.38 348.50,280.39 350.50,277.27 351.90,276.68 353.30,275.19 355.30,274.90 356.75,275.77 358.20,276.22 360.10,278.15 361.55,277.38 363.00,275.85 364.40,276.28 365.80,277.13 367.75,274.77 369.70,273.42 371.15,274.42 372.60,275.33 374.50,274.57 376.40,276.17 378.30,278.37 380.25,279.74 382.20,279.78 383.65,280.21 385.10,280.95 386.55,282.48 388.00,284.05 389.40,282.67 390.80,281.26 392.25,282.07 393.70,283.48 395.15,283.02 396.60,282.96 398.55,281.28 400.50,280.88 401.90,281.05 403.30,281.37 404.75,283.24 406.20,284.34 408.00,286.07 409.37,288.72 410.73,290.01 412.10,291.82 413.43,293.63 414.77,295.27 416.10,297.79 417.60,299.24 419.10,300.70 420.47,301.76 421.83,302.97 423.20,303.15 424.53,304.58 425.87,305.81 427.20,306.45 428.57,307.98 429.93,309.63 431.30,311.70 432.80,313.52 434.30,316.09 436.30,315.29 437.80,316.48 439.30,318.82 440.85,319.11 442.40,318.88 443.90,319.91 445.40,321.94 446.73,323.50 448.07,325.39 449.40,326.76 450.95,327.42 452.50,327.47 453.83,328.76 455.17,331.23 456.50,332.95 458.17,334.11 459.83,336.98 461.50,338.56 463.05,338.06 464.60,338.04 466.10,340.53 467.60,342.25 468.93,343.57 470.27,343.36 471.60,344.41 473.15,345.73 474.70,346.31 476.20,346.03 477.70,344.89 479.20,345.03 480.70,344.61 482.25,344.81 483.80,344.53 485.80,343.65 487.30,345.57 488.80,346.33 490.80,342.18 492.35,341.58 493.90,340.74 495.90,338.58 497.90,337.10" fill="none" stroke="#cdeeb8" stroke-width="3.2" stroke-linejoin="round" stroke-linecap="round" opacity="0.7"/>
<polyline points="314.90,336.30 316.20,325.70 317.80,321.06 319.70,317.92 321.60,318.43 323.50,314.74 325.50,311.25 326.90,310.28 328.30,309.48 329.75,307.38 331.20,306.00 333.20,298.40 334.60,296.81 336.00,295.63 338.00,294.14 339.40,293.13 340.80,291.71 342.80,289.38 344.25,286.77 345.70,284.81 347.10,282.38 348.50,280.39 350.50,277.27 351.90,276.68 353.30,275.19 355.30,274.90 356.75,275.77 358.20,276.22 360.10,278.15 361.55,277.38 363.00,275.85 364.40,276.28 365.80,277.13 367.75,274.77 369.70,273.42 371.15,274.42 372.60,275.33 374.50,274.57 376.40,276.17 378.30,278.37 380.25,279.74 382.20,279.78 383.65,280.21 385.10,280.95 386.55,282.48 388.00,284.05 389.40,282.67 390.80,281.26 392.25,282.07 393.70,283.48 395.15,283.02 396.60,282.96 398.55,281.28 400.50,280.88 401.90,281.05 403.30,281.37 404.75,283.24 406.20,284.34 408.00,286.07 409.37,288.72 410.73,290.01 412.10,291.82 413.43,293.63 414.77,295.27 416.10,297.79 417.60,299.24 419.10,300.70 420.47,301.76 421.83,302.97 423.20,303.15 424.53,304.58 425.87,305.81 427.20,306.45 428.57,307.98 429.93,309.63 431.30,311.70 432.80,313.52 434.30,316.09 436.30,315.29 437.80,316.48 439.30,318.82 440.85,319.11 442.40,318.88 443.90,319.91 445.40,321.94 446.73,323.50 448.07,325.39 449.40,326.76 450.95,327.42 452.50,327.47 453.83,328.76 455.17,331.23 456.50,332.95 458.17,334.11 459.83,336.98 461.50,338.56 463.05,338.06 464.60,338.04 466.10,340.53 467.60,342.25 468.93,343.57 470.27,343.36 471.60,344.41 473.15,345.73 474.70,346.31 476.20,346.03 477.70,344.89 479.20,345.03 480.70,344.61 482.25,344.81 483.80,344.53 485.80,343.65 487.30,345.57 488.80,346.33 490.80,342.18 492.35,341.58 493.90,340.74 495.90,338.58 497.90,337.10" fill="none" stroke="#478f28" stroke-width="1.6" stroke-linejoin="round" stroke-linecap="round"/>
<path d="M314.60 269.5 L507.10 269.5 L507.10 441.3 L314.60 441.3 Z" fill="none" stroke="#222" stroke-width="1.2"/>
<line x1="311.30" y1="352.00" x2="314.60" y2="352.00" stroke="#222" stroke-width="0.9"/>
<text x="309.80" y="354.40" font-size="6.8" text-anchor="end" >−0.05</text>
<line x1="311.30" y1="337.20" x2="314.60" y2="337.20" stroke="#222" stroke-width="0.9"/>
<text x="309.80" y="339.60" font-size="6.8" text-anchor="end" >0.00</text>
<line x1="311.30" y1="322.40" x2="314.60" y2="322.40" stroke="#222" stroke-width="0.9"/>
<text x="309.80" y="324.80" font-size="6.8" text-anchor="end" >0.05</text>
<line x1="311.30" y1="307.60" x2="314.60" y2="307.60" stroke="#222" stroke-width="0.9"/>
<text x="309.80" y="310.00" font-size="6.8" text-anchor="end" >0.10</text>
<line x1="311.30" y1="292.80" x2="314.60" y2="292.80" stroke="#222" stroke-width="0.9"/>
<text x="309.80" y="295.20" font-size="6.8" text-anchor="end" >0.15</text>
<line x1="311.30" y1="278.00" x2="314.60" y2="278.00" stroke="#222" stroke-width="0.9"/>
<text x="309.80" y="280.40" font-size="6.8" text-anchor="end" >0.20</text>
<text x="312.10" y="392.30" font-size="6.8" text-anchor="end" >25,000</text>
<text x="312.10" y="402.02" font-size="6.8" text-anchor="end" >20,000</text>
<text x="312.10" y="411.74" font-size="6.8" text-anchor="end" >15,000</text>
<text x="312.10" y="421.46" font-size="6.8" text-anchor="end" >10,000</text>
<text x="312.10" y="431.18" font-size="6.8" text-anchor="end" >5,000</text>
<text x="312.10" y="440.90" font-size="6.8" text-anchor="end" >0</text>
<line x1="314.60" y1="441.30" x2="314.60" y2="443.90" stroke="#222" stroke-width="0.9"/>
<text x="314.60" y="453.20" font-size="6.6" text-anchor="middle" >0</text>
<line x1="334.85" y1="441.30" x2="334.85" y2="443.90" stroke="#222" stroke-width="0.9"/>
<text x="334.85" y="453.20" font-size="6.6" text-anchor="middle" >500</text>
<line x1="355.09" y1="441.30" x2="355.09" y2="443.90" stroke="#222" stroke-width="0.9"/>
<text x="355.09" y="453.20" font-size="6.6" text-anchor="middle" >1,000</text>
<line x1="375.34" y1="441.30" x2="375.34" y2="443.90" stroke="#222" stroke-width="0.9"/>
<text x="375.34" y="453.20" font-size="6.6" text-anchor="middle" >1,500</text>
<line x1="395.58" y1="441.30" x2="395.58" y2="443.90" stroke="#222" stroke-width="0.9"/>
<text x="395.58" y="453.20" font-size="6.6" text-anchor="middle" >2,000</text>
<line x1="415.83" y1="441.30" x2="415.83" y2="443.90" stroke="#222" stroke-width="0.9"/>
<text x="415.83" y="453.20" font-size="6.6" text-anchor="middle" >2,500</text>
<line x1="436.07" y1="441.30" x2="436.07" y2="443.90" stroke="#222" stroke-width="0.9"/>
<text x="436.07" y="453.20" font-size="6.6" text-anchor="middle" >3,000</text>
<line x1="456.32" y1="441.30" x2="456.32" y2="443.90" stroke="#222" stroke-width="0.9"/>
<text x="456.32" y="453.20" font-size="6.6" text-anchor="middle" >3,500</text>
<line x1="476.56" y1="441.30" x2="476.56" y2="443.90" stroke="#222" stroke-width="0.9"/>
<text x="476.56" y="453.20" font-size="6.6" text-anchor="middle" >4,000</text>
<line x1="496.81" y1="441.30" x2="496.81" y2="443.90" stroke="#222" stroke-width="0.9"/>
<text x="496.81" y="453.20" font-size="6.6" text-anchor="middle" >4,500</text>
<text x="289.90" y="312.10" font-size="8.3" text-anchor="middle" fill="#222" textLength="60.50" lengthAdjust="spacingAndGlyphs" transform="rotate(-90 289.90 312.10)" stroke="#222" stroke-width="0.15">Enrichment score (ES)</text>
<text x="286.80" y="413.70" font-size="9.0" text-anchor="middle" fill="#222" textLength="83.80" lengthAdjust="spacingAndGlyphs" transform="rotate(-90 286.80 413.70)" stroke="#222" stroke-width="0.15">Ranked list metric (PreRanked)</text>
<text x="410.30" y="463.80" font-size="8.4" text-anchor="middle" fill="#222" textLength="63.70" lengthAdjust="spacingAndGlyphs" stroke="#222" stroke-width="0.2">Rank in ordered dataset</text>
<text x="329.90" y="327.80" font-size="6.6" textLength="29.60" lengthAdjust="spacingAndGlyphs" >NES = 3.9</text>
<text x="329.90" y="335.60" font-size="6.6" textLength="50.50" lengthAdjust="spacingAndGlyphs" >FDR q-value = 0.0</text>
<text x="316.40" y="392.50" font-size="6.4" textLength="83.50" lengthAdjust="spacingAndGlyphs" >'na_pos' (positively correlated)</text>
<text x="317.60" y="404.50" font-size="6.8" textLength="29.50" lengthAdjust="spacingAndGlyphs" >ATC-BALL</text>
<text x="431.10" y="403.00" font-size="6.8" textLength="41.50" lengthAdjust="spacingAndGlyphs" >CD19+B220+</text>
<text x="391.80" y="416.60" font-size="6.6" textLength="53.00" lengthAdjust="spacingAndGlyphs" >Zero cross at 2638</text>
<text x="395.10" y="438.00" font-size="6.4" textLength="86.70" lengthAdjust="spacingAndGlyphs" >'na_neg' (negatively correlated)</text>
<line x1="333.30" y1="475.20" x2="340.00" y2="475.20" stroke="#9fcc7f" stroke-width="1.2"/>
<text x="343.40" y="477.00" font-size="5.6" textLength="41.80" lengthAdjust="spacingAndGlyphs" >Enrichment profile</text>
<line x1="391.90" y1="475.20" x2="398.60" y2="475.20" stroke="#222" stroke-width="1.2"/>
<text x="401.60" y="477.00" font-size="5.6" textLength="8.60" lengthAdjust="spacingAndGlyphs" >Hits</text>
<line x1="417.10" y1="475.20" x2="431.60" y2="475.20" stroke="#eeeeee" stroke-width="1.2"/>
<text x="436.30" y="477.00" font-size="5.6" textLength="52.00" lengthAdjust="spacingAndGlyphs" >Ranking metric scores</text>
<rect x="0.5" y="0.5" width="519" height="484" fill="none" stroke="#444" stroke-width="1"/>
</svg>
</body></html>
